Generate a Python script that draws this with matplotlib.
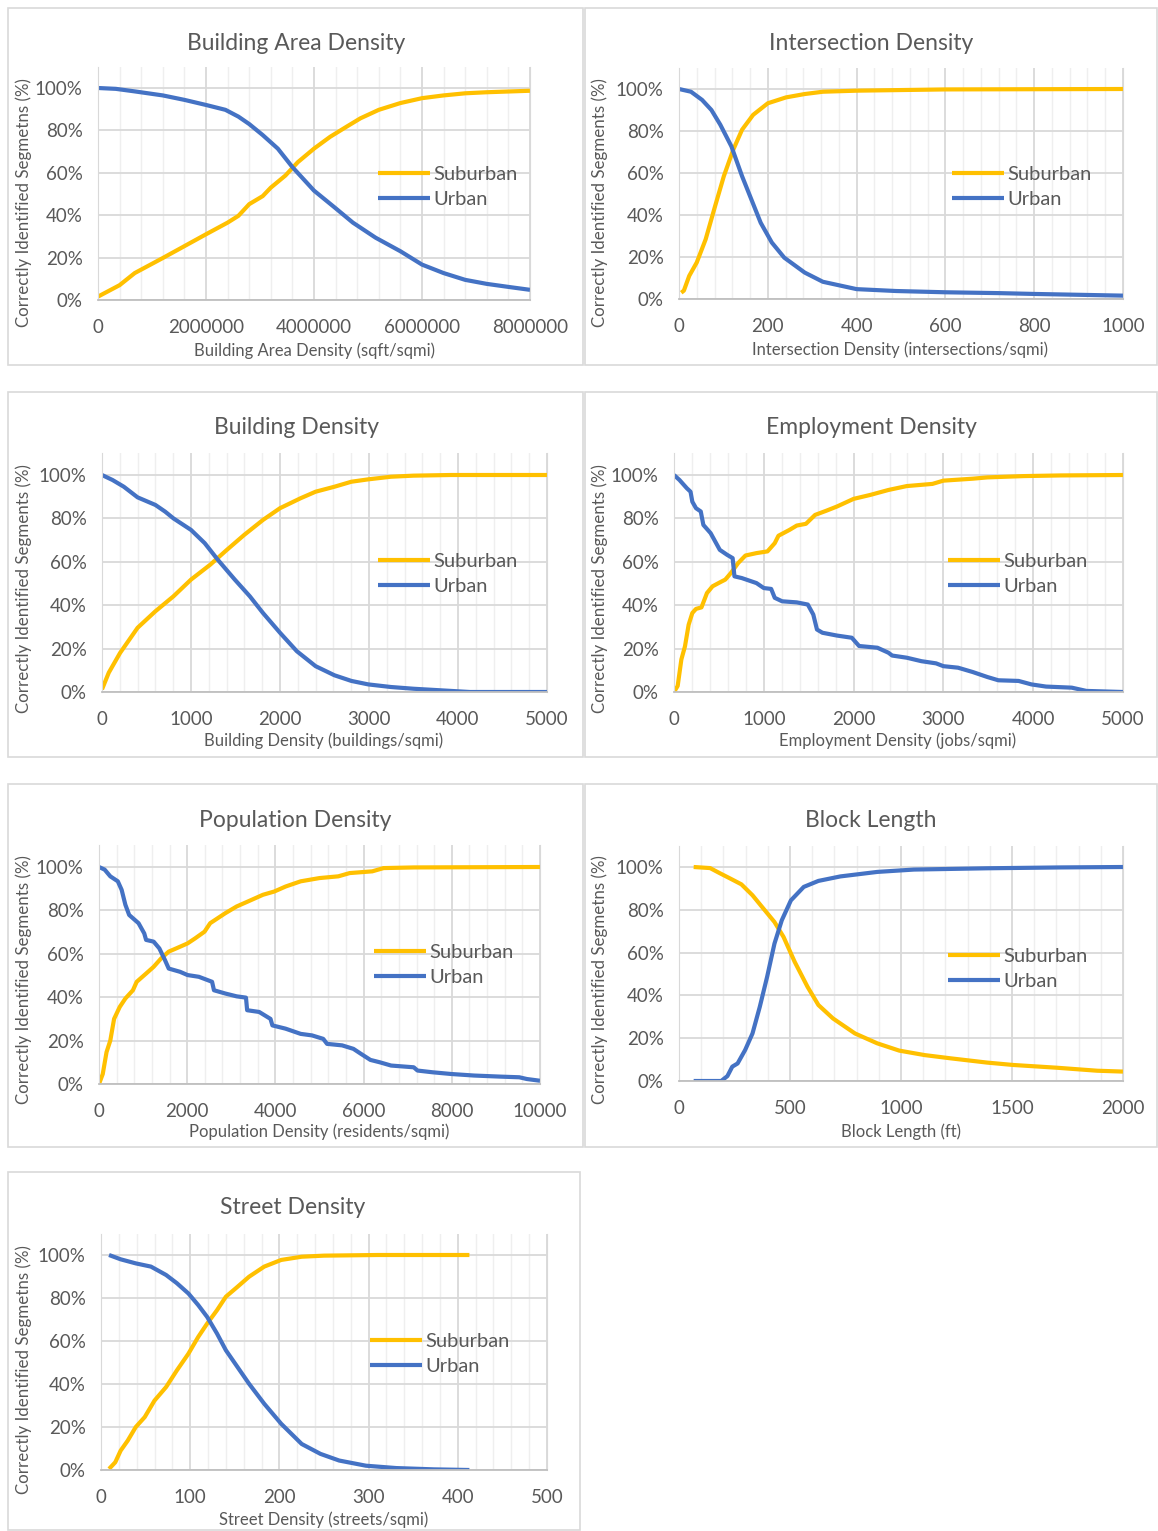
"""
Seven-panel summary of correctly identified suburban / urban segments
against different built-environment measures.
"""
import matplotlib
matplotlib.use("Agg")
import matplotlib.pyplot as plt
from matplotlib.patches import Rectangle
from matplotlib.ticker import MultipleLocator, PercentFormatter

plt.rcParams["font.family"] = ["Lato", "DejaVu Sans"]

W, H = 1158, 1531
TEXT = "#595959"
YELLOW = "#FFC000"
BLUE = "#4472C4"

# ---- data ----
bad_x = [0, 0.4e6, 0.68e6, 1.2e6, 1.6e6, 2.0e6, 2.4e6, 2.6e6, 2.8e6, 3.05e6, 3.2e6, 3.47e6,
         3.7e6, 4.0e6, 4.3e6, 4.6e6, 4.86e6, 5.2e6, 5.6e6, 6.0e6, 6.4e6, 6.8e6, 7.2e6, 8.0e6]
bad_sub = [0.016, 0.07, 0.127, 0.198, 0.254, 0.31, 0.365, 0.397, 0.452, 0.49, 0.53, 0.587,
           0.65, 0.714, 0.77, 0.817, 0.857, 0.897, 0.929, 0.952, 0.965, 0.975, 0.98, 0.987]
bad_urb_x = [0, 0.33e6, 0.68e6, 1.2e6, 1.6e6, 2.0e6, 2.36e6, 2.6e6, 2.8e6, 3.05e6, 3.33e6, 3.6e6,
             4.0e6, 4.38e6, 4.72e6, 5.14e6, 5.6e6, 6.0e6, 6.4e6, 6.8e6, 7.2e6, 7.65e6, 8.0e6]
bad_urb = [1.0, 0.996, 0.984, 0.965, 0.944, 0.92, 0.897, 0.865, 0.83, 0.778, 0.714, 0.627,
           0.516, 0.437, 0.365, 0.294, 0.23, 0.167, 0.127, 0.095, 0.076, 0.06, 0.048]

int_sub_x = [5, 11, 23, 40, 60, 81, 101, 122, 142, 167, 200, 241, 283, 324, 400, 600, 1000]
int_sub = [0.03, 0.04, 0.11, 0.174, 0.284, 0.44, 0.585, 0.71, 0.806, 0.877, 0.932, 0.96,
           0.976, 0.987, 0.992, 0.998, 1.0]
int_urb_x = [0, 27, 52, 73, 93, 118, 142, 163, 184, 209, 237, 283, 324, 400, 489, 600, 720,
             802, 1000]
int_urb = [1.0, 0.987, 0.948, 0.9, 0.83, 0.727, 0.585, 0.474, 0.363, 0.269, 0.197, 0.126,
           0.082, 0.047, 0.038, 0.032, 0.028, 0.024, 0.016]

bd_sub_x = [0, 76, 203, 400, 600, 803, 1000, 1217, 1403, 1598, 1809, 2000, 2232, 2400, 2612,
            2802, 2992, 3246, 3500, 3922, 5000]
bd_sub = [0.012, 0.089, 0.18, 0.296, 0.372, 0.441, 0.518, 0.587, 0.655, 0.724, 0.793, 0.847,
          0.893, 0.923, 0.946, 0.969, 0.98, 0.992, 0.997, 1.0, 1.0]
bd_urb_x = [0, 118, 245, 400, 600, 710, 803, 1000, 1154, 1302, 1492, 1661, 1809, 2000, 2189,
            2400, 2612, 2802, 2992, 3246, 3500, 3922, 4134, 5000]
bd_urb = [1.0, 0.977, 0.946, 0.897, 0.862, 0.831, 0.8, 0.747, 0.686, 0.609, 0.518, 0.441,
          0.364, 0.273, 0.188, 0.119, 0.077, 0.051, 0.035, 0.023, 0.015, 0.005, 0.0, 0.0]

emp_sub_x = [0, 41, 82, 122, 163, 204, 245, 306, 367, 429, 510, 571, 633, 714, 796, 918, 1041,
             1122, 1163, 1286, 1367, 1469, 1571, 1694, 1816, 2000, 2184, 2388, 2592, 2878, 3000,
             3327, 3490, 3898, 4306, 5000]
emp_sub = [0.0, 0.028, 0.15, 0.21, 0.31, 0.364, 0.383, 0.39, 0.456, 0.487, 0.505, 0.518, 0.548,
           0.594, 0.629, 0.64, 0.648, 0.686, 0.72, 0.747, 0.767, 0.775, 0.816, 0.835, 0.855,
           0.89, 0.908, 0.931, 0.949, 0.959, 0.974, 0.983, 0.989, 0.995, 0.998, 1.0]
emp_urb_x = [0, 61, 143, 184, 204, 245, 298, 327, 408, 449, 510, 592, 653, 673, 755, 918, 1000,
             1082, 1122, 1204, 1367, 1490, 1551, 1592, 1653, 1816, 1980, 2061, 2265, 2388, 2429,
             2592, 2755, 2918, 3000, 3163, 3327, 3490, 3612, 3837, 3980, 4143, 4429, 4592, 5000]
emp_urb = [1.0, 0.977, 0.939, 0.923, 0.877, 0.847, 0.832, 0.77, 0.732, 0.701, 0.655, 0.632,
           0.617, 0.533, 0.525, 0.502, 0.479, 0.475, 0.434, 0.418, 0.413, 0.403, 0.357, 0.288,
           0.273, 0.26, 0.25, 0.212, 0.204, 0.181, 0.168, 0.158, 0.142, 0.132, 0.119, 0.112,
           0.092, 0.069, 0.054, 0.051, 0.035, 0.025, 0.02, 0.005, 0.0]

pop_sub_x = [0, 85, 171, 256, 342, 470, 598, 769, 855, 1068, 1239, 1410, 1581, 1752, 2009,
             2179, 2393, 2521, 2863, 3120, 3376, 3718, 3974, 4231, 4573, 5000, 5427, 5684,
             6197, 6453, 7137, 10000]
pop_sub = [0.0, 0.046, 0.147, 0.2, 0.3, 0.355, 0.394, 0.432, 0.471, 0.509, 0.54, 0.579, 0.61,
           0.625, 0.648, 0.671, 0.702, 0.741, 0.787, 0.818, 0.841, 0.872, 0.887, 0.91, 0.934,
           0.949, 0.957, 0.972, 0.98, 0.995, 0.998, 1.0]
pop_urb_x = [0, 128, 256, 427, 513, 598, 684, 897, 1026, 1068, 1239, 1368, 1496, 1581, 1838,
             2009, 2265, 2564, 2607, 2863, 3120, 3333, 3359, 3632, 3889, 3932, 4231, 4573,
             4829, 5085, 5171, 5513, 5769, 5940, 6154, 6368, 6624, 7137, 7222, 7564, 7991,
             8504, 9103, 9530, 9701, 10000]
pop_urb = [1.0, 0.988, 0.957, 0.934, 0.895, 0.826, 0.779, 0.741, 0.694, 0.664, 0.656, 0.625,
           0.571, 0.532, 0.517, 0.502, 0.494, 0.471, 0.432, 0.417, 0.404, 0.398, 0.34, 0.332,
           0.3, 0.27, 0.255, 0.231, 0.224, 0.208, 0.185, 0.178, 0.162, 0.139, 0.111, 0.1,
           0.085, 0.077, 0.062, 0.054, 0.046, 0.039, 0.034, 0.031, 0.023, 0.015]

blk_sub_x = [66, 140, 182, 231, 281, 331, 380, 430, 471, 521, 579, 628, 694, 793, 893, 992,
             1107, 1223, 1388, 1504, 1702, 1884, 2000]
blk_sub = [1.0, 0.995, 0.972, 0.946, 0.919, 0.868, 0.806, 0.743, 0.673, 0.557, 0.44, 0.355,
           0.292, 0.222, 0.176, 0.142, 0.121, 0.106, 0.086, 0.075, 0.062, 0.048, 0.044]
blk_urb_x = [66, 190, 218, 240, 264, 298, 331, 364, 397, 430, 463, 504, 562, 628, 727, 893,
             1058, 1388, 1719, 2000]
blk_urb = [0.0, 0.0, 0.023, 0.067, 0.082, 0.145, 0.222, 0.347, 0.487, 0.642, 0.751, 0.844,
           0.907, 0.935, 0.956, 0.977, 0.988, 0.994, 0.998, 1.0]

st_x = [9, 16, 22, 30, 39, 49, 60, 73, 85, 98, 109, 119, 130, 140, 153, 166, 183, 202, 225,
        250, 310, 413]
st_sub = [0.005, 0.036, 0.09, 0.137, 0.2, 0.246, 0.323, 0.386, 0.463, 0.541, 0.619, 0.681,
          0.743, 0.806, 0.852, 0.899, 0.946, 0.977, 0.992, 0.997, 1.0, 1.0]
st_urb_x = [9, 22, 39, 56, 73, 85, 98, 109, 119, 130, 140, 153, 166, 183, 202, 225, 246, 267,
            297, 331, 373, 413]
st_urb = [1.0, 0.98, 0.961, 0.946, 0.907, 0.869, 0.821, 0.767, 0.712, 0.635, 0.557, 0.479,
          0.401, 0.308, 0.215, 0.121, 0.075, 0.044, 0.02, 0.009, 0.003, 0.0]

SEG = "Correctly Identified Segments (%)"
SEG_TYPO = "Correctly Identified Segmetns (%)"

panels = [
    dict(title="Building Area Density", xlabel="Building Area Density (sqft/sqmi)",
         ylabel=SEG_TYPO, sub=(bad_x, bad_sub), urb=(bad_urb_x, bad_urb),
         xmax=8000000, major=2000000, minor=400000,
         box=(8, 8, 583, 365), ax=(98, 530, 300, 88), title_xy=(296, 43),
         xlabel_xy=(314, 351), ylabel_xy=(24, 203), leg=(378, 187)),
    dict(title="Intersection Density", xlabel="Intersection Density (intersections/sqmi)",
         ylabel=SEG, sub=(int_sub_x, int_sub), urb=(int_urb_x, int_urb),
         xmax=1000, major=200, minor=40,
         box=(585, 8, 1157, 365), ax=(679, 1123, 299, 89), title_xy=(871, 43),
         xlabel_xy=(900, 350), ylabel_xy=(600, 203), leg=(952, 187)),
    dict(title="Building Density", xlabel="Building Density (buildings/sqmi)",
         ylabel=SEG, sub=(bd_sub_x, bd_sub), urb=(bd_urb_x, bd_urb),
         xmax=5000, major=1000, minor=200,
         box=(8, 392, 583, 757), ax=(102, 547, 692, 475), title_xy=(296, 427),
         xlabel_xy=(324, 741), ylabel_xy=(24, 589), leg=(378, 574)),
    dict(title="Employment Density", xlabel="Employment Density (jobs/sqmi)",
         ylabel=SEG, sub=(emp_sub_x, emp_sub), urb=(emp_urb_x, emp_urb),
         xmax=5000, major=1000, minor=200,
         box=(585, 392, 1157, 757), ax=(674, 1123, 692, 475), title_xy=(871, 427),
         xlabel_xy=(898, 741), ylabel_xy=(600, 589), leg=(948, 574)),
    dict(title="Population Density", xlabel="Population Density (residents/sqmi)",
         ylabel=SEG, sub=(pop_sub_x, pop_sub), urb=(pop_urb_x, pop_urb),
         xmax=10000, major=2000, minor=400,
         box=(8, 784, 583, 1147), ax=(99, 540, 1084, 867), title_xy=(295, 820),
         xlabel_xy=(319, 1132), ylabel_xy=(24, 980), leg=(374, 965)),
    dict(title="Block Length", xlabel="Block Length (ft)",
         ylabel=SEG_TYPO, sub=(blk_sub_x, blk_sub), urb=(blk_urb_x, blk_urb),
         xmax=2000, major=500, minor=100,
         box=(585, 784, 1157, 1147), ax=(679, 1123, 1081, 867), title_xy=(871, 820),
         xlabel_xy=(901, 1132), ylabel_xy=(600, 980), leg=(948, 969)),
    dict(title="Street Density", xlabel="Street Density (streets/sqmi)",
         ylabel=SEG_TYPO, sub=(st_x, st_sub), urb=(st_urb_x, st_urb),
         xmax=500, major=100, minor=20,
         box=(8, 1172, 580, 1530), ax=(101, 547, 1470, 1255), title_xy=(293, 1208),
         xlabel_xy=(324, 1520), ylabel_xy=(24, 1370), leg=(370, 1354)),
]


def fx(px):
    return px / W


def fy(py):
    return 1 - py / H


fig = plt.figure(figsize=(W / 100, H / 100), dpi=100)

for p in panels:
    # chart border
    bx0, by0, bx1, by1 = p["box"]
    fig.patches.append(Rectangle((fx(bx0), fy(by1)), fx(bx1 - bx0), (by1 - by0) / H,
                                 transform=fig.transFigure, fill=False,
                                 edgecolor="#d9d9d9", lw=1.2))

    x0, x1, yb, y100 = p["ax"]
    unit = yb - y100
    ax = fig.add_axes([fx(x0), fy(yb), (x1 - x0) / W, 1.1 * unit / H])
    ax.set_xlim(0, p["xmax"])

    ax.xaxis.set_major_locator(MultipleLocator(p["major"]))
    ax.xaxis.set_minor_locator(MultipleLocator(p["minor"]))
    ax.yaxis.set_major_locator(MultipleLocator(0.2))
    ax.yaxis.set_major_formatter(PercentFormatter(1.0, decimals=0))
    ax.set_ylim(0, 1.1)
    ax.xaxis.set_major_formatter(plt.FuncFormatter(lambda v, _: f"{int(round(v))}"))

    ax.grid(which="major", color="#d9d9d9", lw=1.3)
    ax.grid(which="minor", axis="x", color="#efefef", lw=1.0)
    ax.set_axisbelow(True)
    ax.tick_params(which="both", length=0, labelsize=13.5, labelcolor=TEXT)
    ax.tick_params(axis="x", pad=14)
    ax.tick_params(axis="y", pad=11)

    ax.spines["top"].set_visible(False)
    ax.spines["right"].set_color("#d9d9d9")
    ax.spines["left"].set_color("#d9d9d9")
    ax.spines["bottom"].set_color("#bfbfbf")
    ax.spines["bottom"].set_linewidth(1.3)
    ax.patch.set_alpha(0)

    ax.plot(*p["sub"], color=YELLOW, lw=3.0, label="Suburban", solid_capstyle="butt")
    ax.plot(*p["urb"], color=BLUE, lw=3.0, label="Urban", solid_capstyle="butt")

    lx, ly = p["leg"]
    ax.legend(loc="center left",
              bbox_to_anchor=((lx - x0) / (x1 - x0), (yb - ly) / (1.1 * unit)),
              frameon=False, fontsize=14.5, labelcolor=TEXT, handlelength=2.6,
              handletextpad=0.15, borderpad=0, borderaxespad=0, labelspacing=0.4)

    tx, ty = p["title_xy"]
    fig.text(fx(tx), fy(ty), p["title"], ha="center", va="center", fontsize=16.5, color=TEXT)
    lx, ly = p["xlabel_xy"]
    fig.text(fx(lx), fy(ly), p["xlabel"], ha="center", va="center", fontsize=12, color=TEXT)
    lx, ly = p["ylabel_xy"]
    fig.text(fx(lx), fy(ly), p["ylabel"], ha="center", va="center", rotation=90,
             fontsize=12.2, color=TEXT)

fig.savefig("out.png", dpi=100)
